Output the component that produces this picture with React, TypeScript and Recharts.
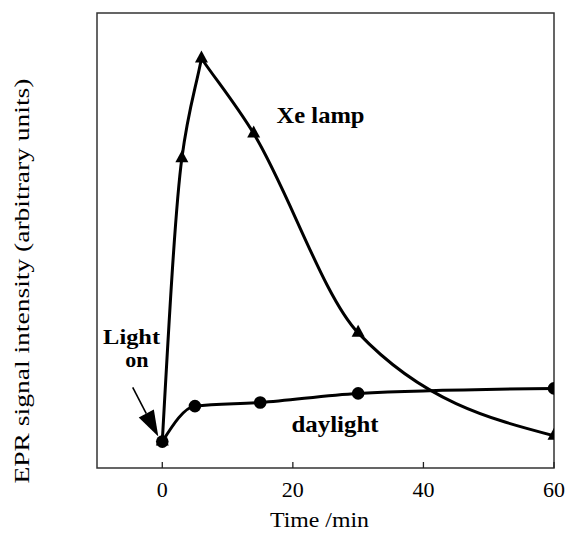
import React from 'react';
import {
  LineChart,
  Line,
  XAxis,
  YAxis,
  ReferenceArea,
  ReferenceDot,
  ReferenceLine,
  Customized,
} from 'recharts';

// ---- data ----
const timeXe = [0, 3, 6, 14, 30, 60];
const xeLamp = [5.8, 68.1, 90.0, 73.5, 29.7, 7.1];
const timeDay = [0, 5, 15, 30, 60];
const daylight = [5.8, 13.6, 14.4, 16.4, 17.5];
const xTicks = [0, 20, 40, 60];
const xDomain = [-10, 60];
const yDomain = [0, 100];

const xeData = timeXe.map((t, i) => ({ t, v: xeLamp[i] }));
const dayData = timeDay.map((t, i) => ({ t, v: daylight[i] }));

const FONT = '"Liberation Serif", "Times New Roman", Times, serif';

// monotone-like cubic curve that keeps a sharp corner at local extrema
function cornerMonotone(context: any) {
  let xs: number[] = [];
  let ys: number[] = [];
  return {
    areaStart() {},
    areaEnd() {},
    lineStart() {
      xs = [];
      ys = [];
    },
    point(x: number, y: number) {
      xs.push(+x);
      ys.push(+y);
    },
    lineEnd() {
      const n = xs.length;
      if (!n) return;
      context.moveTo(xs[0], ys[0]);
      if (n === 1) return;
      if (n === 2) {
        context.lineTo(xs[1], ys[1]);
        return;
      }
      const h: number[] = [];
      const s: number[] = [];
      for (let i = 0; i < n - 1; i++) {
        h[i] = xs[i + 1] - xs[i];
        s[i] = (ys[i + 1] - ys[i]) / h[i];
      }
      const isCorner = (i: number) =>
        i > 0 && i < n - 1 && s[i - 1] * s[i] <= 0;
      const mIn: number[] = new Array(n).fill(0);
      const mOut: number[] = new Array(n).fill(0);
      for (let i = 1; i < n - 1; i++) {
        if (isCorner(i)) {
          mIn[i] = s[i - 1];
          mOut[i] = s[i];
        } else {
          let m: number;
          if (isCorner(i - 1) || isCorner(i + 1)) {
            m = (2 * s[i - 1] * s[i]) / (s[i - 1] + s[i]);
          } else {
            const p = (s[i - 1] * h[i] + s[i] * h[i - 1]) / (h[i - 1] + h[i]);
            m =
              Math.sign(s[i]) *
              Math.min(2 * Math.abs(s[i - 1]), 2 * Math.abs(s[i]), Math.abs(p));
          }
          mIn[i] = m;
          mOut[i] = m;
        }
      }
      mOut[0] = (3 * s[0] - mIn[1]) / 2;
      mIn[n - 1] = (3 * s[n - 2] - mOut[n - 2]) / 2;
      for (let i = 0; i < n - 1; i++) {
        const d = h[i] / 3;
        context.bezierCurveTo(
          xs[i] + d,
          ys[i] + d * mOut[i],
          xs[i + 1] - d,
          ys[i + 1] - d * mIn[i + 1],
          xs[i + 1],
          ys[i + 1]
        );
      }
    },
  };
}

const TriangleDot = (props: any) => {
  const { cx, cy, index } = props;
  if (cx == null || cy == null) return <g key={`t${index}`} />;
  const w = 6.5;
  return (
    <polygon
      key={`t${index}`}
      points={`${cx},${cy - 8} ${cx - w},${cy + 4} ${cx + w},${cy + 4}`}
      fill="#000"
    />
  );
};

const CircleDot = (props: any) => {
  const { cx, cy, index } = props;
  if (cx == null || cy == null) return <g key={`c${index}`} />;
  return <circle key={`c${index}`} cx={cx} cy={cy} r={6.3} fill="#000" />;
};

const XTick = (props: any) => {
  const { x, y, payload } = props;
  return (
    <g>
      <line x1={x} y1={y} x2={x} y2={y - 6} stroke="#222" strokeWidth={1.3} />
      <text
        x={x}
        y={y + 29}
        textAnchor="middle"
        fontFamily={FONT}
        fontSize={22}
        fill="#000"
      >
        {payload.value}
      </text>
    </g>
  );
};

const textShape = (label: string, opts: any) => (p: any) => (
  <text
    x={p.cx}
    y={p.cy}
    textAnchor={opts.anchor || 'start'}
    fontFamily={FONT}
    fontWeight="bold"
    fontSize={opts.size || 23}
    fill="#000"
    {...(opts.len ? { textLength: opts.len, lengthAdjust: 'spacingAndGlyphs' } : {})}
  >
    {label}
  </text>
);

const arrowShape = (p: any) => {
  const { x1, y1, x2, y2 } = p;
  const dx = x2 - x1;
  const dy = y2 - y1;
  const L = Math.sqrt(dx * dx + dy * dy) || 1;
  const ux = dx / L;
  const uy = dy / L;
  const hl = 26;
  const hw = 8.5;
  const bx = x2 - ux * hl;
  const by = y2 - uy * hl;
  return (
    <g>
      <line x1={x1} y1={y1} x2={bx} y2={by} stroke="#000" strokeWidth={1.6} />
      <polygon
        points={`${x2},${y2} ${bx - uy * hw},${by + ux * hw} ${bx + uy * hw},${by - ux * hw}`}
        fill="#000"
      />
    </g>
  );
};

const AxisTitles = () => (
  <g>
    <text
      x={319.5}
      y={527}
      textAnchor="middle"
      fontFamily={FONT}
      fontSize={22}
      fill="#000"
      textLength={99}
      lengthAdjust="spacingAndGlyphs"
    >
      Time /min
    </text>
    <text
      transform="translate(29,281) rotate(-90)"
      textAnchor="middle"
      fontFamily={FONT}
      fontSize={22}
      fill="#000"
      textLength={405}
      lengthAdjust="spacingAndGlyphs"
    >
      EPR signal intensity  (arbitrary units)
    </text>
  </g>
);

export default function App() {
  return (
    <div style={{ position: 'absolute', left: 0, top: 0, background: '#fff' }}>
      <LineChart
        width={568}
        height={536}
        margin={{ top: 13, right: 14, left: 97, bottom: 0 }}
      >
        <XAxis
          type="number"
          dataKey="t"
          domain={xDomain}
          ticks={xTicks}
          interval={0}
          allowDataOverflow
          height={68}
          axisLine={false}
          tickLine={false}
          tickSize={0}
          tickMargin={0}
          tick={<XTick />}
        />
        <YAxis type="number" dataKey="v" domain={yDomain} hide allowDataOverflow />
        <ReferenceArea
          x1={-10}
          x2={60}
          y1={0}
          y2={100}
          fill="none"
          fillOpacity={0}
          stroke="#333"
          strokeWidth={1.5}
        />
        <Line
          data={xeData}
          dataKey="v"
          type={cornerMonotone as any}
          stroke="#000"
          strokeWidth={3}
          dot={TriangleDot}
          activeDot={false}
          isAnimationActive={false}
        />
        <Line
          data={dayData}
          dataKey="v"
          type={cornerMonotone as any}
          stroke="#000"
          strokeWidth={3}
          dot={CircleDot}
          activeDot={false}
          isAnimationActive={false}
        />
        <ReferenceDot x={17.5} y={75.8} r={0} shape={textShape('Xe lamp', { len: 88 })} />
        <ReferenceDot x={19.8} y={8.0} r={0} shape={textShape('daylight', { len: 87 })} />
        <ReferenceDot x={-4.7} y={27.3} r={0} shape={textShape('Light', { anchor: 'middle', size: 22, len: 57 })} />
        <ReferenceDot x={-3.9} y={22.2} r={0} shape={textShape('on', { anchor: 'middle', size: 22 })} />
        <ReferenceLine
          segment={[
            { x: -4.53, y: 17.7 },
            { x: -0.61, y: 6.9 },
          ]}
          shape={arrowShape}
        />
        <Customized component={AxisTitles} />
      </LineChart>
    </div>
  );
}
